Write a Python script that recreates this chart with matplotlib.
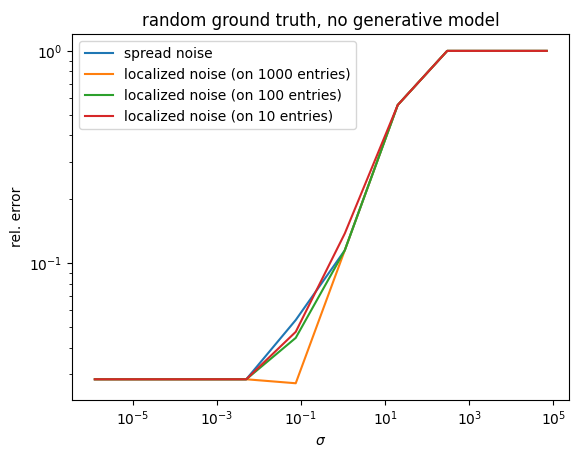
import matplotlib
matplotlib.use("Agg")
import matplotlib.pyplot as plt

sigma = [1.25e-6, 5e-3, 7.5e-2, 1.1, 20, 300, 7e4]
spread = [0.0284, 0.0284, 0.054, 0.115, 0.556, 1.0, 1.0]
loc1000 = [0.0284, 0.0284, 0.0272, 0.115, 0.556, 1.0, 1.0]
loc100 = [0.0284, 0.0284, 0.0445, 0.115, 0.556, 1.0, 1.0]
loc10 = [0.0284, 0.0284, 0.0475, 0.138, 0.556, 1.0, 1.0]

fig, ax = plt.subplots(figsize=(5.78, 4.57), dpi=100)
ax.plot(sigma, spread, label="spread noise")
ax.plot(sigma, loc1000, label="localized noise (on 1000 entries)")
ax.plot(sigma, loc100, label="localized noise (on 100 entries)")
ax.plot(sigma, loc10, label="localized noise (on 10 entries)")
ax.set_xscale("log")
ax.set_yscale("log")
ax.set_xlabel(r"$\sigma$")
ax.set_ylabel("rel. error")
ax.set_title("random ground truth, no generative model")
ax.legend(loc="upper left")
fig.subplots_adjust(left=0.125, right=0.985, top=0.925, bottom=0.125)
fig.savefig("out.png")
